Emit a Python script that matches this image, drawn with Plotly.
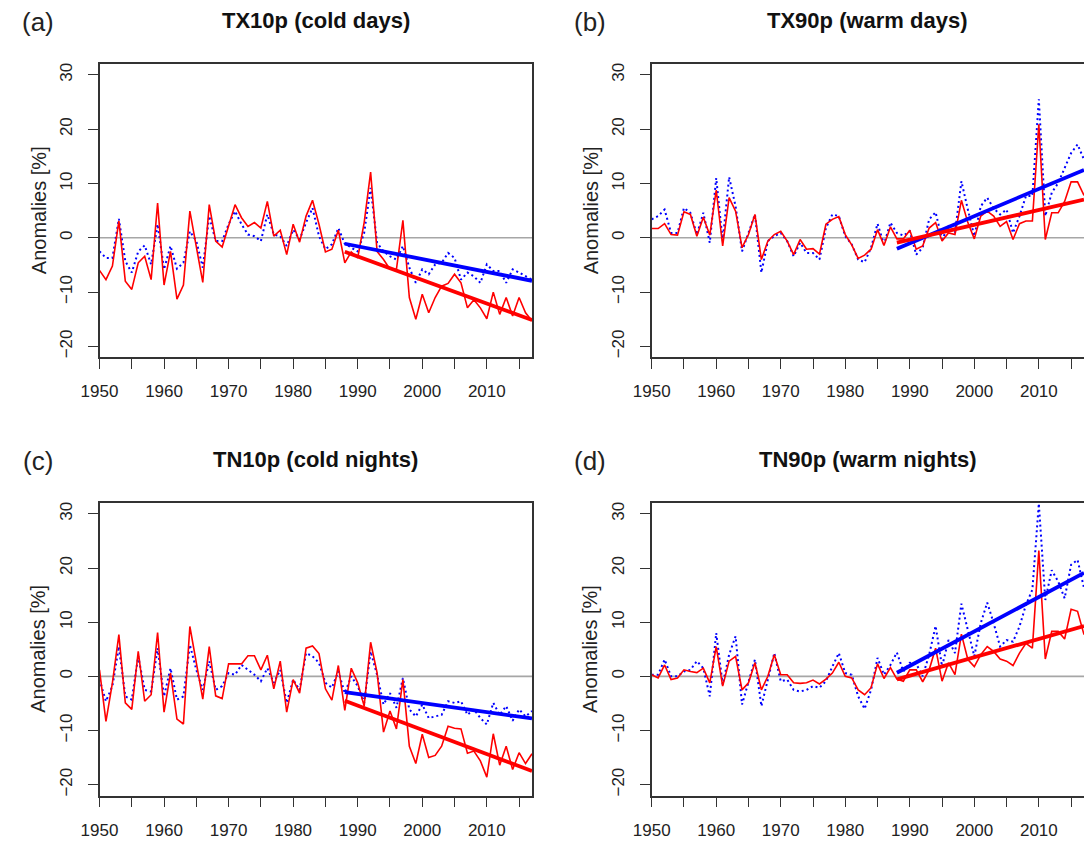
import numpy as np
import plotly.graph_objects as go

W, H = 1092, 841
OFF = 8  # the page body margin shifts the figure by this many px
years = list(range(1950, 2018))
TREND_FROM = 1988

# anomalies [%], red = solid series, blue = dotted series
tx10p_red = [-6.0, -7.7, -5.2, 3.1, -8.0, -9.5, -4.6, -3.4, -7.7, 6.4,
             -8.7, -2.5, -11.3, -8.7, 4.9, -1.5, -8.2, 6.1, -0.6, -1.7,
             2.1, 6.1, 3.7, 2.1, 2.8, 1.8, 6.7, 0.3, 1.4, -3.1,
             2.5, -0.8, 4.0, 6.9, 2.5, -2.6, -2.1, 1.4, -4.6, -2.6,
             -3.7, 2.8, 12.1, -2.5, -4.0, -5.8, -5.8, 3.2, -11.0, -15.0,
             -10.4, -13.8, -11.0, -8.9, -8.4, -6.7, -8.3, -12.9, -11.4, -12.9,
             -14.9, -10.0, -14.1, -11.0, -14.4, -11.0, -13.8, -15.3]
tx10p_blue = [-2.5, -3.7, -3.7, 3.5, -4.3, -6.4, -2.5, -1.4, -4.9, 2.5,
              -5.8, -1.5, -5.7, -4.6, 1.2, -0.6, -5.5, 4.0, -0.6, -0.6,
              2.5, 4.9, 2.5, 0.6, 0.3, -0.6, 4.3, 0.6, 0.3, -1.5,
              1.5, -0.3, 2.8, 5.5, 0.3, -2.1, -1.2, 1.8, -1.1, -1.8,
              -2.5, 0.9, 9.2, -0.9, -2.5, -3.4, -4.0, -1.5, -5.5, -8.3,
              -5.8, -6.7, -4.9, -4.6, -2.8, -3.7, -7.7, -6.4, -7.1, -8.3,
              -4.9, -6.1, -6.1, -8.3, -5.8, -6.4, -7.1, -7.7]

tx90p_red = [1.7, 1.7, 2.6, 0.6, 0.5, 4.8, 4.3, 0.3, 3.8, 0.5,
             8.8, -1.5, 7.4, 4.9, -1.8, 0.6, 4.3, -4.0, -0.6, 0.6,
             1.2, -0.6, -3.1, -0.3, -2.1, -2.0, -3.0, 2.5, 3.4, 3.9,
             0.6, -1.3, -3.8, -3.2, -2.1, 1.5, -1.4, 2.0, -0.2, -0.2,
             1.4, -2.1, -1.5, 1.8, 2.8, -0.6, 0.9, 0.6, 6.9, 2.8,
             -0.2, 4.0, 4.9, 4.0, 2.1, 3.0, -0.3, 2.6, 3.1, 3.1,
             20.9, -0.3, 4.6, 4.6, 6.7, 10.3, 10.3, 7.8]
tx90p_blue = [3.4, 4.0, 5.2, 0.9, 0.9, 5.5, 4.6, 0.6, 4.6, -0.9,
              11.0, -0.6, 11.2, 5.8, -2.5, 0.9, 4.3, -6.4, -0.6, 0.3,
              0.9, -0.6, -3.4, -0.9, -2.8, -2.8, -4.0, 1.8, 4.3, 4.0,
              0.3, -1.2, -4.0, -4.5, -1.8, 2.6, -1.2, 2.8, 0.9, 0.4,
              1.2, -3.1, -1.8, 3.4, 4.7, -0.3, 2.1, 0.9, 10.4, 5.2,
              0.3, 5.8, 7.4, 5.4, 4.3, 5.2, 0.9, 4.0, 7.7, 7.7,
              25.5, 4.0, 8.3, 10.1, 12.9, 15.6, 17.2, 14.4]

tn10p_red = [1.2, -8.3, -1.2, 7.7, -4.9, -6.1, 4.6, -4.6, -3.4, 8.1,
             -6.6, 0.6, -7.9, -8.8, 9.2, 2.5, -4.2, 5.5, -3.6, -4.1,
             2.3, 2.3, 2.3, 3.8, 3.8, 1.2, 3.9, -2.3, 2.8, -6.6,
             -0.6, -3.1, 5.2, 5.6, 4.2, -2.3, -4.4, 2.0, -6.3, 1.5,
             -1.2, -5.5, 6.3, 0.7, -10.3, -6.4, -9.7, -0.6, -12.9, -16.1,
             -10.7, -15.0, -14.6, -12.9, -9.2, -9.6, -9.7, -14.2, -13.8, -15.6,
             -18.6, -10.6, -16.4, -12.9, -17.2, -14.1, -16.1, -14.3]
tn10p_blue = [-0.6, -4.6, -1.8, 5.5, -3.7, -4.3, 3.7, -2.5, -2.8, 5.2,
              -3.7, 1.5, -4.3, -3.7, 5.8, 1.2, -2.5, 2.8, -2.5, -1.8,
              0.6, 0.3, 2.1, 1.2, 0.3, -0.9, 1.5, -1.2, 1.2, -4.9,
              -0.6, -2.5, 4.3, 3.7, 2.5, -1.2, -2.1, 0.9, -3.1, 0.0,
              -1.8, -4.9, 4.6, 0.3, -5.2, -3.1, -5.8, -0.3, -6.1, -7.4,
              -5.2, -7.7, -7.4, -7.1, -4.6, -4.9, -4.6, -7.1, -6.1, -7.7,
              -8.9, -4.9, -7.1, -5.5, -8.2, -6.1, -7.4, -6.4]

tn90p_red = [0.3, -0.3, 2.1, -0.6, -0.3, 1.2, 0.9, 0.7, 1.5, -1.2,
             5.5, -1.8, 2.8, 3.7, -2.5, -1.2, 2.5, -2.5, 0.0, 4.0,
             0.3, 0.3, -1.2, -1.3, -1.2, -0.7, -1.4, -0.5, 0.6, 2.6,
             0.0, -0.3, -2.5, -3.4, -2.1, 2.3, -0.4, 1.6, -0.5, -0.9,
             1.2, 1.2, -1.0, 1.2, 5.2, -0.9, 2.5, 0.3, 7.8, 3.1,
             1.8, 4.0, 5.5, 4.6, 3.2, 2.8, 2.0, 4.3, 6.1, 5.2,
             23.2, 3.2, 8.3, 8.3, 6.9, 12.4, 12.0, 7.7]
tn90p_blue = [0.3, 0.3, 3.1, 0.0, 0.0, 0.9, 1.2, 2.8, 1.5, -3.7,
              8.0, -1.5, 4.0, 7.4, -5.2, -0.9, 3.1, -5.5, -0.6, 4.3,
              -0.9, -0.6, -2.5, -2.8, -2.5, -1.8, -2.1, -0.9, 1.8, 4.3,
              0.6, 0.3, -3.7, -6.0, -2.5, 3.4, 0.3, 2.1, 4.4, 0.9,
              2.5, 2.3, 0.0, 4.0, 9.3, 1.8, 6.7, 4.3, 13.4, 8.6,
              3.7, 9.8, 13.6, 9.8, 5.5, 6.7, 6.4, 9.2, 13.2, 16.0,
              31.9, 14.1, 19.6, 17.5, 14.4, 20.6, 21.5, 16.3]

x_ticks = list(range(1950, 2020, 5))
x_labels = [str(v) if v % 10 == 0 else "" for v in x_ticks]
y_ticks = [-20, -10, 0, 10, 20, 30]

# plot boxes in screen px: left, right, top, bottom
panels = [
    ("(a)", "TX10p (cold days)", tx10p_red, tx10p_blue, (99.5, 532, 64, 357.3)),
    ("(b)", "TX90p (warm days)", tx90p_red, tx90p_blue, (651.7, 1084, 64, 357.3)),
    ("(c)", "TN10p (cold nights)", tn10p_red, tn10p_blue, (99.5, 532, 503, 795.5)),
    ("(d)", "TN90p (warm nights)", tn90p_red, tn90p_blue, (651.7, 1084, 503, 795.5)),
]

FONT = "Liberation Sans, Arial, sans-serif"
FRAME = "#333333"


def px(x):
    return (x - OFF) / W


def py(y):
    return 1 - (y - OFF) / H


def sen_trend(x, y):
    # Theil-Sen slope with median intercept
    i, j = np.triu_indices(len(x), k=1)
    slope = np.median((y[j] - y[i]) / (x[j] - x[i]))
    icpt = np.median(y - slope * x)
    return slope, icpt


fig = go.Figure()
annotations = []
layout_axes = {}

yrs = np.array(years, dtype=float)
sel = yrs >= TREND_FROM
trend_x = yrs[sel]

for i, (letter, title, red, blue, box) in enumerate(panels):
    n = "" if i == 0 else str(i + 1)
    xa, ya = "x" + n, "y" + n
    x0, x1, top, bottom = box

    # zero reference line
    fig.add_trace(go.Scatter(
        x=[years[0], years[-1]], y=[0, 0], mode="lines",
        line={"color": "#a6a6a6", "width": 1.6},
        xaxis=xa, yaxis=ya, showlegend=False, hoverinfo="skip",
    ))
    fig.add_trace(go.Scatter(
        x=years, y=blue, mode="lines",
        line={"color": "#0000ff", "width": 2, "dash": "2px,3px"},
        xaxis=xa, yaxis=ya, showlegend=False,
    ))
    fig.add_trace(go.Scatter(
        x=years, y=red, mode="lines",
        line={"color": "#ff0000", "width": 1.6},
        xaxis=xa, yaxis=ya, showlegend=False,
    ))
    for series, col in [(blue, "#0000ff"), (red, "#ff0000")]:
        slope, icpt = sen_trend(trend_x, np.array(series)[sel])
        fig.add_trace(go.Scatter(
            x=trend_x, y=slope * trend_x + icpt, mode="lines",
            line={"color": col, "width": 3.8},
            xaxis=xa, yaxis=ya, showlegend=False,
        ))

    layout_axes["xaxis" + n] = dict(
        domain=[px(x0), px(x1)], anchor=ya, range=[1950, 2017],
        tickmode="array", tickvals=x_ticks, ticktext=x_labels,
        ticks="outside", ticklen=10, tickwidth=1.4, tickcolor=FRAME,
        showline=True, linecolor=FRAME, linewidth=1.5, mirror=True,
        showgrid=False, zeroline=False, ticklabelstandoff=8, automargin=False,
        tickfont={"size": 17, "color": "#222222"},
    )
    layout_axes["yaxis" + n] = dict(
        domain=[py(bottom), py(top)], anchor=xa, range=[-22, 32],
        tickmode="array", tickvals=y_ticks, tickangle=-90,
        ticks="outside", ticklen=10, tickwidth=1.4, tickcolor=FRAME,
        showline=True, linecolor=FRAME, linewidth=1.5, mirror=True,
        showgrid=False, zeroline=False, ticklabelstandoff=9, automargin=False,
        tickfont={"size": 17, "color": "#222222"},
    )

    annotations.append(dict(
        text=letter, x=px(x0 - 62), y=py(top - 42),
        xref="paper", yref="paper", showarrow=False,
        xanchor="center", yanchor="middle",
        font={"size": 26, "color": "#222222"},
    ))
    annotations.append(dict(
        text="<b>" + title + "</b>", x=px((x0 + x1) / 2), y=py(top - 44),
        xref="paper", yref="paper", showarrow=False,
        xanchor="center", yanchor="middle",
        font={"size": 22, "color": "#111111"},
    ))
    annotations.append(dict(
        text="Anomalies [%]", x=px(x0 - 61), y=py((top + bottom) / 2),
        xref="paper", yref="paper", showarrow=False, textangle=-90,
        xanchor="center", yanchor="middle",
        font={"size": 20, "color": "#222222"},
    ))

fig.update_layout(
    width=W, height=H,
    margin={"l": 0, "r": 0, "t": 0, "b": 0, "autoexpand": False},
    paper_bgcolor="white", plot_bgcolor="white",
    font={"family": FONT},
    annotations=annotations,
    **layout_axes,
)

fig.write_html("out.html")
